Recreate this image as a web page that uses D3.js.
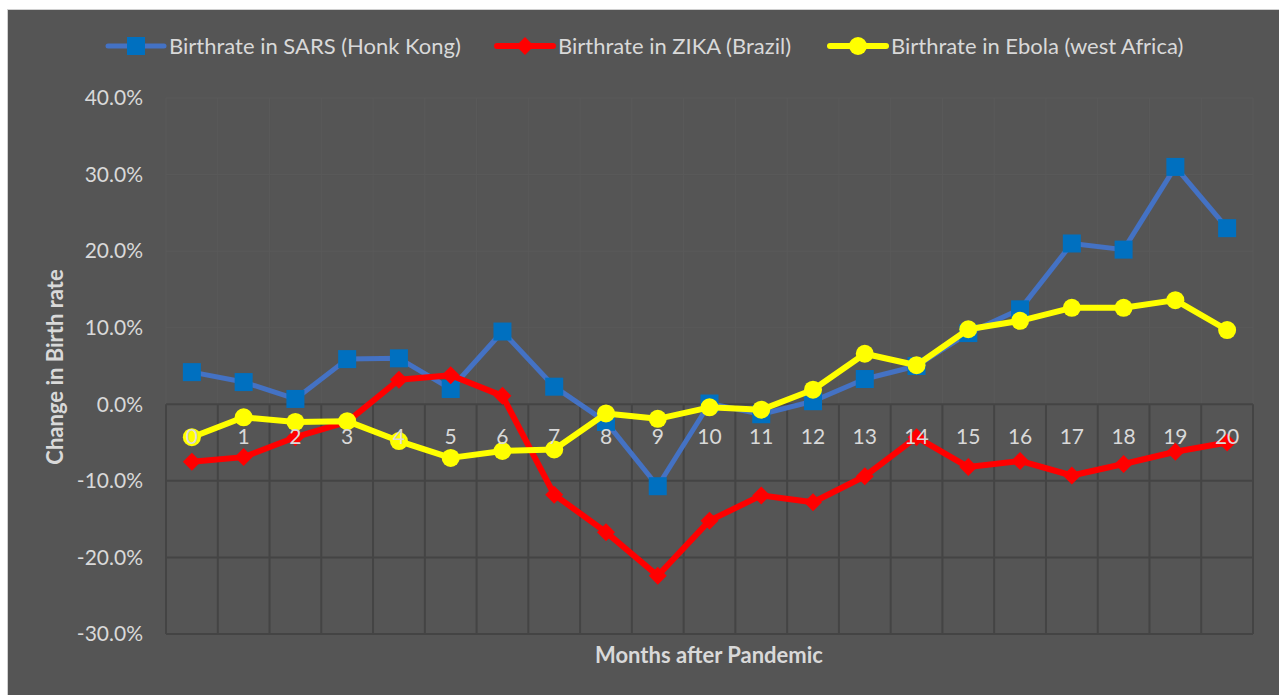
<!DOCTYPE html>
<html>
<head>
<meta charset="utf-8">
<script src="https://cdn.jsdelivr.net/npm/d3@7"></script>
<style>
  html, body { margin: 0; padding: 0; background: #fff; }
  svg { display: block; }
  text { font-family: Lato, "Open Sans", sans-serif; fill: #d9d9d9; }
</style>
</head>
<body>
<svg id="chart" width="1279" height="695"></svg>
<script>
// months after the pandemic (x categories)
const months = d3.range(0, 21).map(String);

// change in birth rate, percent
const sarsHK = [4.2, 2.9, 0.7, 5.9, 6.0, 2.0, 9.5, 2.3, -2.3, -10.7, 0.1, -1.3, 0.4, 3.3, 5.0, 9.3, 12.4, 21.0, 20.2, 31.0, 23.0];
const zikaBR = [-7.5, -6.9, -4.3, -2.3, 3.2, 3.8, 1.1, -11.8, -16.7, -22.4, -15.2, -11.9, -12.8, -9.4, -4.3, -8.2, -7.4, -9.3, -7.8, -6.2, -5.0];
const ebolaWA = [-4.3, -1.7, -2.3, -2.2, -4.8, -7.0, -6.1, -5.9, -1.2, -1.9, -0.4, -0.7, 1.9, 6.6, 5.1, 9.8, 10.9, 12.6, 12.6, 13.6, 9.7];

const yTicks = [40, 30, 20, 10, 0, -10, -20, -30];
const seriesNames = ["Birthrate in SARS (Honk Kong)", "Birthrate in ZIKA (Brazil)", "Birthrate in Ebola (west Africa)"];

const svg = d3.select("#chart");
const W = 1279, H = 695;
const margin = {left: 166, right: 26, top: 98, bottom: 61};

// chart background
svg.append("rect")
  .attr("x", 7.5).attr("y", 9.5)
  .attr("width", W - 7).attr("height", H - 9)
  .attr("fill", "#555555")
  .attr("stroke", "#d0d0d0");

const x = d3.scaleBand()
  .domain(months)
  .range([margin.left, W - margin.right]);

const y = d3.scaleLinear()
  .domain([-30, 40])
  .range([H - margin.bottom, margin.top]);

// gridlines - faint above zero, darker below
const grid = svg.append("g");
const xEdges = months.map(m => x(m)).concat([x.range()[1]]);
xEdges.forEach(px => {
  grid.append("line")
    .attr("x1", px).attr("x2", px)
    .attr("y1", y(40)).attr("y2", y(0))
    .attr("stroke", "#5a5a5a").attr("stroke-width", 1);
  grid.append("line")
    .attr("x1", px).attr("x2", px)
    .attr("y1", y(0)).attr("y2", y(-30))
    .attr("stroke", "#444444").attr("stroke-width", 2);
});
yTicks.forEach(t => {
  grid.append("line")
    .attr("x1", x.range()[0]).attr("x2", x.range()[1])
    .attr("y1", y(t)).attr("y2", y(t))
    .attr("stroke", t > 0 ? "#5a5a5a" : "#444444")
    .attr("stroke-width", t > 0 ? 1 : 2);
});

// y axis labels
const yAxis = svg.append("g")
  .attr("transform", `translate(${margin.left - 23},0)`)
  .call(d3.axisLeft(y).tickValues(yTicks).tickSize(0).tickPadding(0)
    .tickFormat(d => d.toFixed(1) + "%"));
yAxis.select(".domain").remove();
yAxis.selectAll("text")
  .style("font-size", "21px")
  .style("fill", "#d9d9d9")
  .style("font-family", "Lato, 'Open Sans', sans-serif");

const cx = d => x(d) + x.bandwidth() / 2;

const series = [
  {name: seriesNames[0], values: sarsHK, line: "#4472c4", marker: "#0070c0", shape: "square"},
  {name: seriesNames[1], values: zikaBR, line: "#ff0000", marker: "#ff0000", shape: "diamond"},
  {name: seriesNames[2], values: ebolaWA, line: "#ffff00", marker: "#ffff00", shape: "circle"}
];

const lineGen = d3.line()
  .x((d, i) => cx(months[i]))
  .y(d => y(d));

function drawMarker(g, shape, color, px, py) {
  if (shape === "square") {
    g.append("rect").attr("x", px - 9).attr("y", py - 9)
      .attr("width", 18).attr("height", 18).attr("fill", color);
  } else if (shape === "diamond") {
    g.append("path")
      .attr("d", `M${px},${py - 9}L${px + 9},${py}L${px},${py + 9}L${px - 9},${py}Z`)
      .attr("fill", color);
  } else {
    g.append("circle").attr("cx", px).attr("cy", py).attr("r", 9).attr("fill", color);
  }
}

series.forEach(s => {
  const g = svg.append("g");
  g.append("path")
    .datum(s.values)
    .attr("d", lineGen)
    .attr("fill", "none")
    .attr("stroke", s.line)
    .attr("stroke-width", s.shape === "square" ? 5 : 6)
    .attr("stroke-linejoin", "round");
  s.values.forEach((v, i) => drawMarker(g, s.shape, s.marker, cx(months[i]), y(v)));
});

// x axis labels sit just under the zero line
const xAxis = svg.append("g")
  .attr("transform", `translate(0,${y(0)})`)
  .call(d3.axisBottom(x).tickSize(0).tickPadding(40));
xAxis.select(".domain").remove();
xAxis.selectAll("text")
  .attr("dy", 0)
  .style("font-size", "21px")
  .style("fill", "#d9d9d9")
  .style("font-family", "Lato, 'Open Sans', sans-serif");

// axis titles
svg.append("text")
  .attr("x", 709).attr("y", 663)
  .attr("text-anchor", "middle")
  .style("font-size", "22px").style("font-weight", "bold")
  .text("Months after Pandemic");

svg.append("text")
  .attr("transform", "translate(63,367) rotate(-90)")
  .attr("text-anchor", "middle")
  .style("font-size", "22px").style("font-weight", "bold")
  .text("Change in Birth rate");

// legend
const legendX = [108, 497, 830];
series.forEach((s, i) => {
  const g = svg.append("g").attr("transform", `translate(${legendX[i]},46)`);
  g.append("line").attr("x1", 0).attr("x2", 56).attr("y1", 0).attr("y2", 0)
    .attr("stroke", s.line).attr("stroke-width", s.shape === "square" ? 5 : 6)
    .attr("stroke-linecap", "round");
  drawMarker(g, s.shape, s.marker, 28, 0);
  g.append("text").attr("x", 61).attr("y", 8)
    .style("font-size", "22px")
    .text(s.name);
});
</script>
</body>
</html>
